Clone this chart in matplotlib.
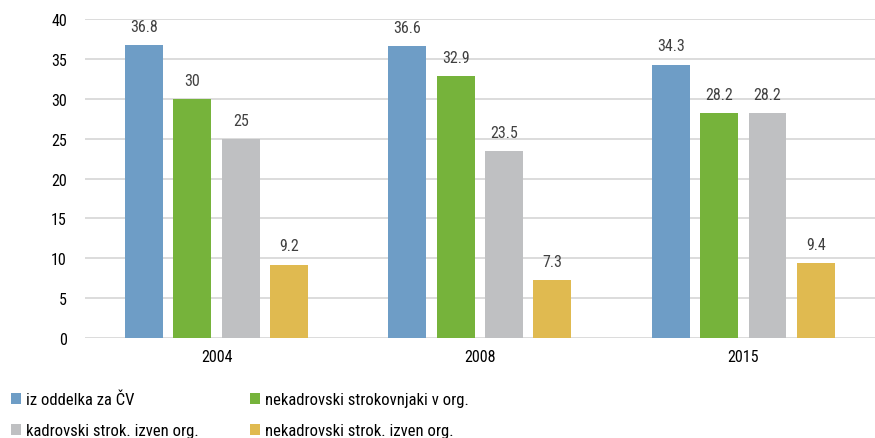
import matplotlib
matplotlib.use("Agg")
from matplotlib import pyplot as plt
import numpy as np

years = ['2004', '2008', '2015']
series = ['iz oddelka za ČV', 'nekadrovski strokovnjaki v org.',
          'kadrovski strok. izven org.', 'nekadrovski strok. izven org.']
iz_oddelka = [36.8, 36.6, 34.3]
nekadrovski_v_org = [30, 32.9, 28.2]
kadrovski_izven = [25, 23.5, 28.2]
nekadrovski_izven = [9.2, 7.3, 9.4]
values = [iz_oddelka, nekadrovski_v_org, kadrovski_izven, nekadrovski_izven]
colors = ['#6E9DC6', '#76B33B', '#BFC0C2', '#E0BA50']

plt.rcParams['font.family'] = ['Roboto Condensed', 'Liberation Sans', 'DejaVu Sans']

fig = plt.figure(figsize=(8.75, 4.39), dpi=100)
ax = fig.add_axes([0.097, 0.228, 0.903, 0.726])

x = np.arange(len(years))
width = 0.144
step = 0.1835
bars_all = []
for i, (vals, name, c) in enumerate(zip(values, series, colors)):
    pos = x + (i - 1.5) * step
    bars = ax.bar(pos, vals, width, color=c, label=name, zorder=3)
    bars_all.append(bars)
    for b, v in zip(bars, vals):
        ax.annotate(f'{v:g}', (b.get_x() + b.get_width() / 2, v),
                    xytext=(0, 8), textcoords='offset points',
                    ha='center', va='bottom', fontsize=11.5, color='#404040')

ax.set_xlim(-0.5, 2.5)
ax.set_ylim(0, 40)
ax.set_yticks(range(0, 41, 5))
ax.set_xticks(x)
ax.set_xticklabels(years)
ax.tick_params(axis='both', length=0, labelsize=11.5, colors='#000000')
ax.tick_params(axis='y', pad=13)
ax.tick_params(axis='x', pad=8)
ax.grid(axis='y', color='#D9D9D9', linewidth=1.3, zorder=0)
for s in ax.spines.values():
    s.set_visible(False)

# row-major order like the original
order = [0, 2, 1, 3]
fig.legend([bars_all[k] for k in order], [series[k] for k in order],
           loc='upper left', bbox_to_anchor=(0.005, 0.12), ncol=2,
           frameon=False, fontsize=12, handlelength=0.6, handleheight=0.6,
           handletextpad=0.3, columnspacing=3.1, labelspacing=0.95,
           borderaxespad=0)

plt.savefig('out.png', dpi=100)
